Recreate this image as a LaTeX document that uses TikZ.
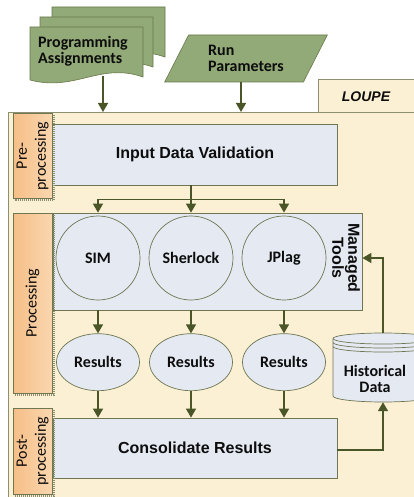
\documentclass[tikz,border=0pt]{standalone}
\usepackage{fontspec}
\setmainfont{Carlito}
\newfontfamily\arialfont{Liberation Sans}
\usepackage{xcolor}
\usepackage{tikz}
\usetikzlibrary{positioning,arrows.meta,shapes.geometric,calc}

\definecolor{loupecream}{HTML}{FBF0D3}
\definecolor{framegray}{HTML}{8E8E70}
\definecolor{boxblue}{HTML}{E4E9F2}
\definecolor{boxedge}{HTML}{6E7652}
\definecolor{olivearrow}{HTML}{4A5528}
\definecolor{docgreen}{HTML}{92A978}
\definecolor{docedge}{HTML}{6A7A4A}
\definecolor{barleft}{HTML}{F5BE87}
\definecolor{barright}{HTML}{FAD7AF}
\definecolor{inktext}{HTML}{0D0D0D}

\begin{document}
\begin{tikzpicture}[
  x=1pt, y=-1pt,
  font=\fontsize{16}{16.5}\selectfont\bfseries,
  text=inktext,
  node distance=33pt and 10pt,
  stage/.style={rectangle, draw=boxedge, fill=boxblue, line width=0.8pt, font=\arialfont\fontsize{16}{17}\selectfont\bfseries},
  tool/.style={circle, draw=boxedge, fill=boxblue, line width=0.7pt, minimum size=84pt, inner sep=0pt},
  result/.style={ellipse, draw=boxedge, fill=boxblue, line width=0.7pt, minimum width=83pt, minimum height=57pt, inner sep=0pt},
  sidebar/.style={rectangle, draw=boxedge, line width=0.7pt, left color=barleft, right color=barright, minimum width=39pt, inner sep=0pt},
  sidetext/.style={rotate=90, align=center, font=\fontsize{16}{19}\selectfont},
  hatch/.style={draw=framegray, line width=2pt, dash pattern=on 1pt off 1pt},
  doc/.style={fill=docgreen, draw=docedge, line width=0.6pt},
  arr/.style={-{Triangle[length=9pt,width=10pt]}, line width=1.5pt, draw=olivearrow},
]
\useasboundingbox (0,0) rectangle (414,497);
\clip (0,0) rectangle (414,497);

% LOUPE container and tab
\node[rectangle, draw=framegray, fill=loupecream, line width=0.8pt, minimum width=130pt, minimum height=33pt, anchor=north west] (tab) at (318,79) {};
\node[rectangle, draw=framegray, fill=loupecream, line width=0.8pt, minimum width=440pt, minimum height=420pt, anchor=north west] (loupebox) at (8,112) {};
\node[font=\arialfont\fontsize{14}{16}\selectfont\bfseries\itshape] (loupe) at (366,97) {LOUPE};

% inputs
\foreach \dx/\dy in {22/-20, 10/-10, 0/0}
  \draw[doc, shift={(\dx,\dy)}] (30,27) -- (143,27) -- (143,77) .. controls (100,62) and (75,92) .. (30,80) -- cycle;
\node[align=left] (prog) at (83,51) {Programming\\Assignments};
\coordinate (progout) at (103,76);
\node[trapezium, trapezium left angle=63, trapezium right angle=117, doc, minimum width=160pt, minimum height=47pt, align=left] (runpar) at (246,58.5) {Run\\Parameters};
\draw[arr] (progout) -- (progout |- loupebox.north);
\draw[arr] ([xshift=-5pt]runpar.south) -- ([xshift=-5pt]runpar.south |- loupebox.north);

% pre-processing
\node[stage, minimum width=285pt, minimum height=61pt] (idv) at (195,154.5) {Input Data Validation};

% processing
\node[rectangle, draw=boxedge, fill=boxblue, line width=0.8pt, minimum width=309pt, minimum height=97pt] (tools) at (207.5,261.5) {};
\node[tool] (sim) at (98,258) {SIM};
\node[tool] (sherlock) at (191,258) {Sherlock};
\node[tool] (jplag) at (284,258) {JPlag};
\node[rotate=-90, align=center, font=\arialfont\fontsize{16}{16}\selectfont\bfseries] (managed) at (346,258) {Managed\\Tools};
\node[result, below=of sim] (ressim) {Results};
\node[result, below=of sherlock] (ressherlock) {Results};
\node[result, below=of jplag] (resjplag) {Results};

% post-processing
\node[stage, minimum width=284pt, minimum height=60pt] (cons) at (195,448) {Consolidate Results};

% historical data store
\node[minimum width=100pt, minimum height=69pt, inner sep=0pt] (hist) at (383,367.5) {};
\filldraw[fill=boxblue, draw=boxedge, line width=0.7pt] (333,338.5) -- (333,396) arc[start angle=180, end angle=360, x radius=50pt, y radius=6pt] -- (433,338.5) arc[start angle=0, end angle=180, x radius=50pt, y radius=5.5pt] -- cycle;
\foreach \off in {0,4,8}
  \draw[boxedge, line width=0.7pt] (333,338.5+\off) arc[start angle=180, end angle=360, x radius=50pt, y radius=5.5pt];
\node[align=center] (histtxt) at (375,379) {Historical\\Data};

% connectors
\foreach \t in {sim,sherlock,jplag} {
  \draw[arr] (sherlock |- idv.south) |- ($(\t |- idv.south)+(0,14)$) -- (\t |- tools.north);
  \draw[arr] (\t |- tools.south) -- (res\t);
  \draw[arr] (res\t) -- (\t |- cons.north);
}
\draw[arr] ([yshift=-2pt]cons.east) -| (hist.south);
\draw[arr] (hist.north) |- (tools.east |- jplag);

% stage side bars
\node[sidebar, minimum height=85pt] (prebar) at (32.5,156) {};
\node[sidebar, minimum height=180pt] (procbar) at (32.5,303) {};
\node[sidebar, minimum height=86pt] (postbar) at (32.5,451) {};
\foreach \b in {prebar,procbar,postbar}
  \draw[hatch] ([xshift=1.5pt,yshift=-2pt]\b.north east) -- ([xshift=1.5pt,yshift=-1.5pt]\b.south east) -- ([xshift=2pt,yshift=-1.5pt]\b.south west);
\node[sidetext] (pretxt) at (prebar) {Pre-\\processing};
\node[sidetext] (proctxt) at (procbar) {Processing};
\node[sidetext] (posttxt) at (postbar) {Post-\\processing};
\end{tikzpicture}
\end{document}
